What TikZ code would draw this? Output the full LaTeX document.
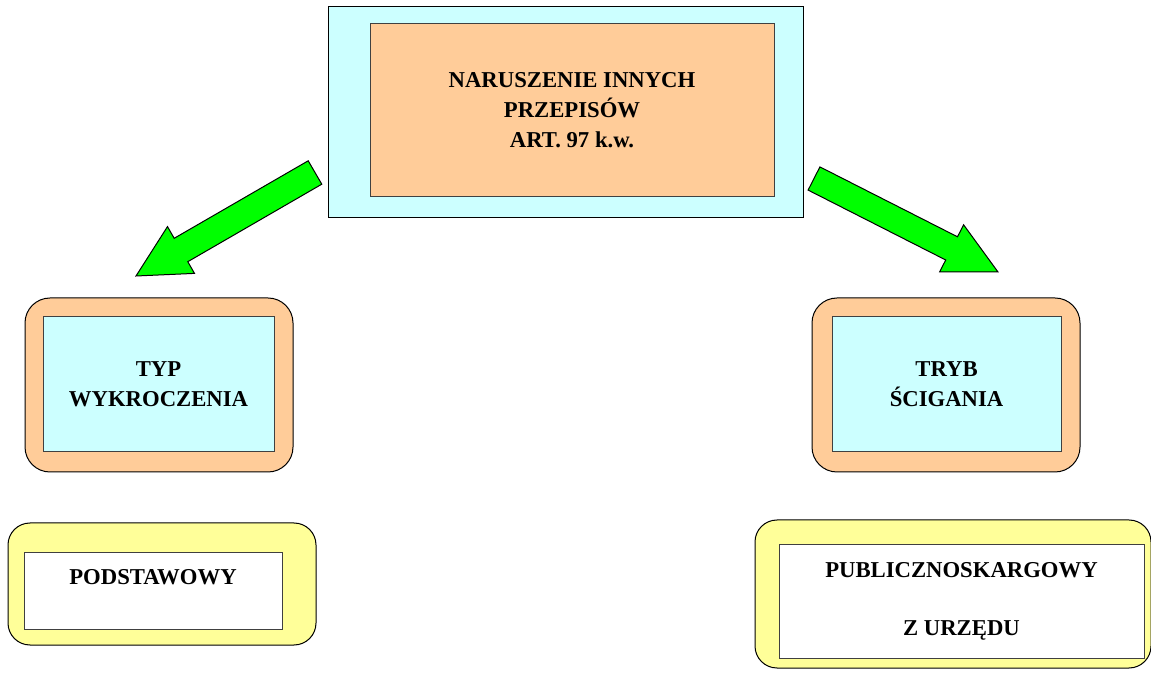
\documentclass[tikz,border=0pt]{standalone}
\usepackage{fontspec}
\setmainfont{Liberation Serif}
\usetikzlibrary{positioning}

\definecolor{paleCyan}{HTML}{CCFFFF}
\definecolor{peach}{HTML}{FFCC99}
\definecolor{paleYellow}{HTML}{FFFF99}
\definecolor{arrowGreen}{HTML}{00FF00}

\begin{document}
\begin{tikzpicture}[
    x=1pt, y=1pt,
    outerbox/.style={rectangle, draw=black, line width=1pt, inner sep=0pt},
    innerbox/.style={rectangle, draw=black!75, line width=1pt, inner sep=0pt, align=center,
        font=\fontsize{22.7}{30}\selectfont\bfseries},
    greenarrow/.style={draw=black, line width=1pt, fill=arrowGreen, line join=miter}
]
\useasboundingbox (0,0) rectangle (1151,672);

% Top box
\node[outerbox, fill=paleCyan, minimum width=475, minimum height=211] (top) at (565.5, 559.5) {};
\node[innerbox, fill=peach, minimum width=404, minimum height=173] (topin) at (572, 561.5)
    {NARUSZENIE INNYCH\\PRZEPISÓW\\ART. 97 k.w.};

% Middle boxes
\node[outerbox, fill=peach, rounded corners=25pt, minimum width=268, minimum height=174] (typ) at (159, 287) {};
\node[innerbox, fill=paleCyan, minimum width=231, minimum height=135] (typin) at (158.5, 287.5)
    {TYP\\WYKROCZENIA};

\node[outerbox, fill=peach, rounded corners=25pt, minimum width=268, minimum height=174] (tryb) at (946, 287) {};
\node[innerbox, fill=paleCyan, minimum width=229, minimum height=135] (trybin) at (946.5, 287.5)
    {TRYB\\ŚCIGANIA};

% Bottom boxes
\node[outerbox, fill=paleYellow, rounded corners=22pt, minimum width=308, minimum height=122] (podst) at (162, 88) {};
\node[innerbox, fill=white, minimum width=258, minimum height=77] (podstin) at (153, 80.5)
    {PODSTAWOWY\\\mbox{}};

\node[outerbox, fill=paleYellow, rounded corners=22pt, minimum width=396, minimum height=148] (publ) at (953, 78) {};
\node[innerbox, fill=white, minimum width=365, minimum height=113] (publin) at (961.5, 70.5)
    {PUBLICZNOSKARGOWY\\[28pt]Z URZĘDU};

% Green arrows
\draw[greenarrow] (308.2,511.2) -- (174.2,433.7) -- (167.5,445.4) -- (136,396)
    -- (194.5,398.6) -- (187.8,410.3) -- (321.8,487.8) -- cycle;
\draw[greenarrow] (819.9,505.1) -- (957.5,435.2) -- (963.6,447.2) -- (998,400)
    -- (939.6,400) -- (945.7,412) -- (808.1,481.9) -- cycle;

\end{tikzpicture}
\end{document}
